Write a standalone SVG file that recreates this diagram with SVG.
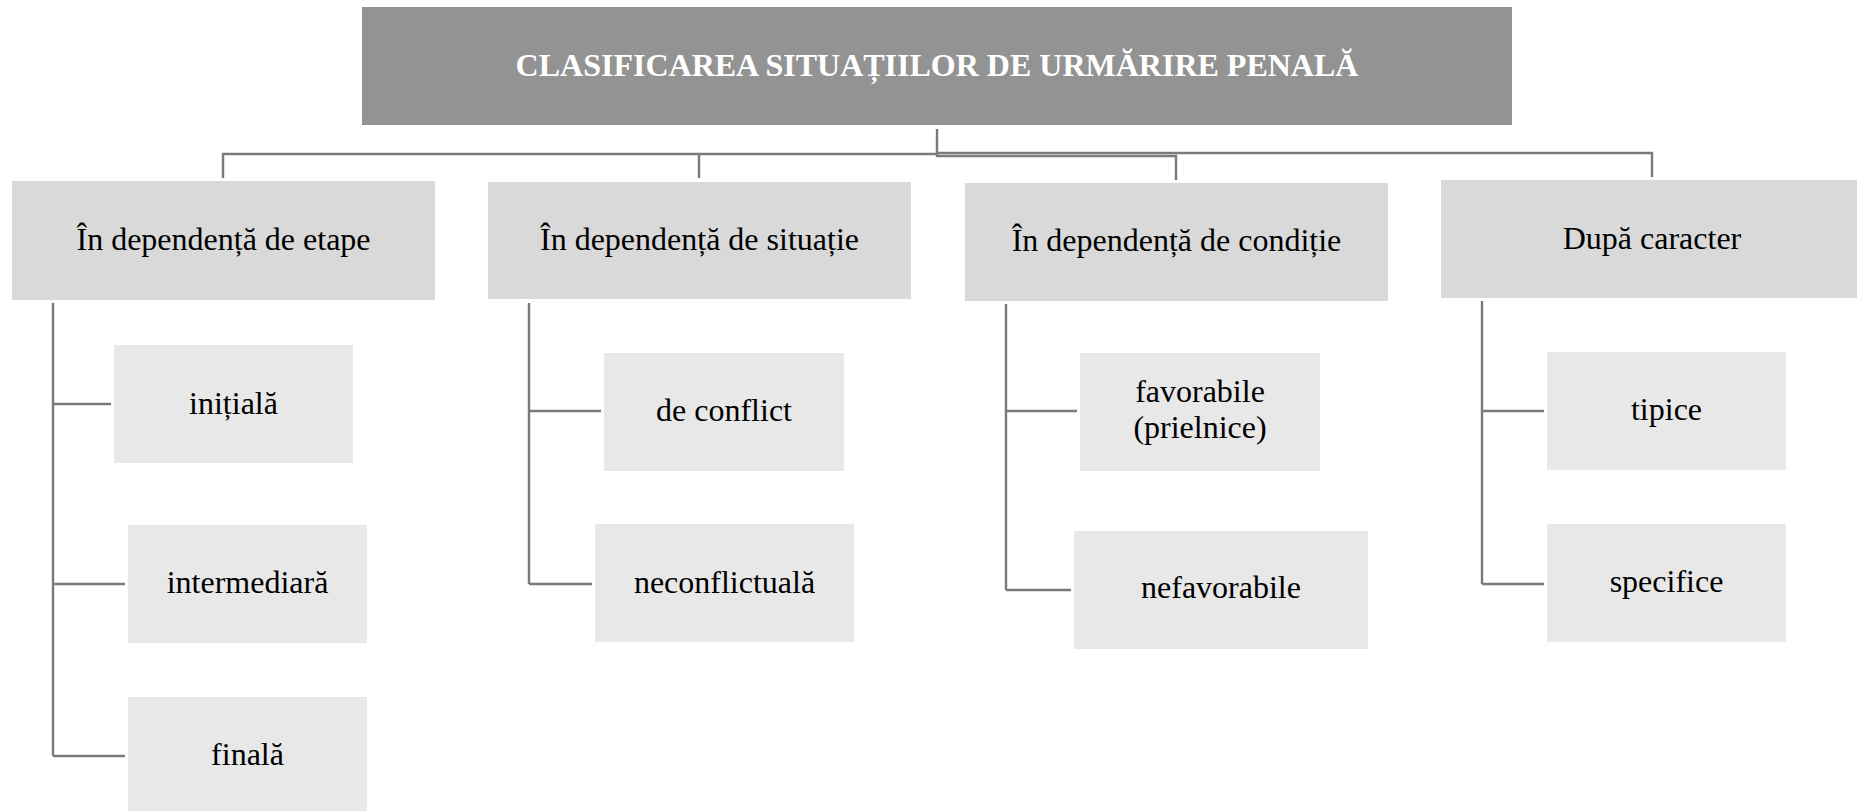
<svg xmlns="http://www.w3.org/2000/svg" width="1857" height="811" viewBox="0 0 1857 811">
<style>
.root{fill:#939393}
.l2{fill:#d9d9d9}
.l3{fill:#e8e8e8}
.t{font-family:"Liberation Serif","Times New Roman",serif;font-size:32px;fill:#000;text-anchor:middle}
.title{font-family:"Liberation Serif","Times New Roman",serif;font-size:32px;font-weight:bold;fill:#fff;text-anchor:middle}
.c{fill:none;stroke:#7a7a7a;stroke-width:2.4}
</style>
<rect width="1857" height="811" fill="#fff"/>
<g id="connectors">
<path class="c" d="M223,178 V154 H937"/>
<path class="c" d="M699,178 V154"/>
<path class="c" d="M937,129 V156 H1176 V180"/>
<path class="c" d="M937,153 H1652 V177"/>
<path class="c" d="M53,303 V756 M53,404 H111 M53,584 H125 M53,756 H125"/>
<path class="c" d="M529,303 V584 M529,411 H601 M529,584 H592"/>
<path class="c" d="M1006,304 V590 M1006,411 H1077 M1006,590 H1071"/>
<path class="c" d="M1482,301 V584 M1482,411 H1544 M1482,584 H1544"/>
</g>
<g id="root"><rect class="root" x="362" y="7" width="1150" height="118"/><text class="title" x="937" y="76">CLASIFICAREA SITUAȚIILOR DE URMĂRIRE PENALĂ</text></g>
<g id="etape"><rect class="l2" x="12" y="181" width="423" height="119"/><text class="t" x="223.5" y="250">În dependență de etape</text></g>
<g id="situatie"><rect class="l2" x="488" y="182" width="423" height="117"/><text class="t" x="699.5" y="250">În dependență de situație</text></g>
<g id="conditie"><rect class="l2" x="965" y="183" width="423" height="118"/><text class="t" x="1176.5" y="251">În dependență de condiție</text></g>
<g id="caracter"><rect class="l2" x="1441" y="180" width="422" height="118"/><text class="t" x="1652" y="249">După caracter</text></g>
<g id="initiala"><rect class="l3" x="114" y="345" width="239" height="118"/><text class="t" x="233.5" y="414">inițială</text></g>
<g id="intermediara"><rect class="l3" x="128" y="525" width="239" height="118"/><text class="t" x="247.5" y="593">intermediară</text></g>
<g id="finala"><rect class="l3" x="128" y="697" width="239" height="114"/><text class="t" x="247.5" y="765">finală</text></g>
<g id="conflict"><rect class="l3" x="604" y="353" width="240" height="118"/><text class="t" x="724" y="421">de conflict</text></g>
<g id="neconflictuala"><rect class="l3" x="595" y="524" width="259" height="118"/><text class="t" x="724.5" y="593">neconflictuală</text></g>
<g id="favorabile"><rect class="l3" x="1080" y="353" width="240" height="118"/><text class="t" x="1200" y="402">favorabile</text><text class="t" x="1200" y="438">(prielnice)</text></g>
<g id="nefavorabile"><rect class="l3" x="1074" y="531" width="294" height="118"/><text class="t" x="1221" y="598">nefavorabile</text></g>
<g id="tipice"><rect class="l3" x="1547" y="352" width="239" height="118"/><text class="t" x="1666.5" y="420">tipice</text></g>
<g id="specifice"><rect class="l3" x="1547" y="524" width="239" height="118"/><text class="t" x="1666.5" y="592">specifice</text></g>
</svg>
